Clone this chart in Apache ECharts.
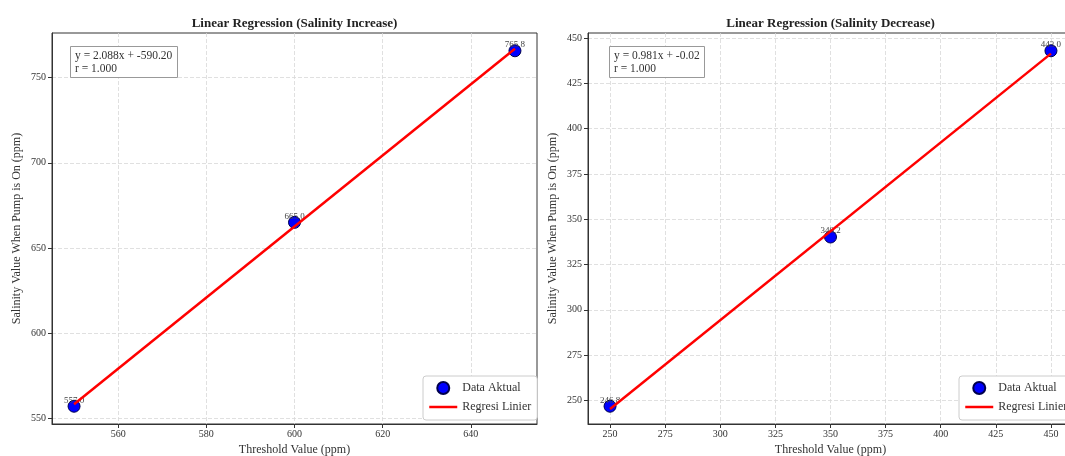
<!DOCTYPE html>
<html>
<head>
<meta charset="utf-8">
<script src="https://cdn.jsdelivr.net/npm/echarts@6/dist/echarts.min.js"></script>
<style>
  html, body { margin: 0; padding: 0; background: #fff; }
  #chart { width: 1065px; height: 456px; }
</style>
</head>
<body>
<div id="chart"></div>
<script>
// ---- Data ----
const titleInc = 'Linear Regression (Salinity Increase)';
const titleDec = 'Linear Regression (Salinity Decrease)';
const xInc = [550, 600, 650];
const yInc = [557.0, 665.0, 765.8];
const xDec = [250, 350, 450];
const yDec = [246.8, 340.2, 443.0];
const xTicksInc = [560, 580, 600, 620, 640];
const yTicksInc = [550, 600, 650, 700, 750];
const xTicksDec = [250, 275, 300, 325, 350, 375, 400, 425, 450];
const yTicksDec = [250, 275, 300, 325, 350, 375, 400, 425, 450];
const xName = 'Threshold Value (ppm)';
const yName = 'Salinity Value When Pump is On (ppm)';
const seriesNames = ['Data Aktual', 'Regresi Linier'];

// ---- Helpers ----
const FONT = '"Liberation Serif", "DejaVu Serif", serif';
function fit(xs, ys) {
  const n = xs.length;
  const mx = xs.reduce((a, b) => a + b, 0) / n;
  const my = ys.reduce((a, b) => a + b, 0) / n;
  let sxy = 0, sxx = 0, syy = 0;
  for (let i = 0; i < n; i++) {
    sxy += (xs[i] - mx) * (ys[i] - my);
    sxx += (xs[i] - mx) ** 2;
    syy += (ys[i] - my) ** 2;
  }
  const slope = sxy / sxx;
  const intercept = my - slope * mx;
  const r = sxy / Math.sqrt(sxx * syy);
  return { slope, intercept, r };
}
function pad(vals) {
  const lo = Math.min(...vals), hi = Math.max(...vals);
  const m = (hi - lo) * 0.05;
  return [lo - m, hi + m];
}
const fInc = fit(xInc, yInc);
const fDec = fit(xDec, yDec);
function eqText(f) {
  return 'y = ' + f.slope.toFixed(3) + 'x + ' + f.intercept.toFixed(2) + '\nr = ' + f.r.toFixed(3);
}
function fitLine(xs, f) {
  const a = Math.min(...xs), b = Math.max(...xs);
  return [[a, f.slope * a + f.intercept], [b, f.slope * b + f.intercept]];
}

const GRID_W = 485, GRID_H = 391, GRID_TOP = 33;
const grids = [
  { left: 52, top: GRID_TOP, width: GRID_W, height: GRID_H },
  { left: 588, top: GRID_TOP, width: GRID_W, height: GRID_H }
].map(g => Object.assign(g, {
  show: true, borderColor: '#333', borderWidth: 1, backgroundColor: 'transparent',
  containLabel: false, outerBoundsMode: 'none'
}));

function xAxis(gi, ext, ticks) {
  return {
    type: 'value', gridIndex: gi, min: ext[0], max: ext[1],
    name: xName, nameLocation: 'middle', nameGap: 20,
    nameTextStyle: { fontFamily: FONT, fontSize: 12, color: '#333' },
    axisLine: { show: true, onZero: false, lineStyle: { color: '#333', width: 1 } },
    axisTick: { show: true, inside: false, length: 4, customValues: ticks, lineStyle: { color: '#333' } },
    axisLabel: { customValues: ticks, fontSize: 10, color: '#333', margin: 5, fontFamily: FONT },
    splitLine: { show: true, lineStyle: { type: [4, 2], color: '#d8d8d8', width: 0.8 } }
  };
}
function yAxis(gi, ext, ticks) {
  return {
    type: 'value', gridIndex: gi, min: ext[0], max: ext[1],
    name: yName, nameLocation: 'middle', nameGap: 29, nameRotate: 90,
    nameTextStyle: { fontFamily: FONT, fontSize: 12, color: '#333' },
    axisLine: { show: true, onZero: false, lineStyle: { color: '#333', width: 1 } },
    axisTick: { show: true, inside: false, length: 4, customValues: ticks, lineStyle: { color: '#333' } },
    axisLabel: { customValues: ticks, fontSize: 10, color: '#333', margin: 6, fontFamily: FONT },
    splitLine: { show: true, lineStyle: { type: [4, 2], color: '#d8d8d8', width: 0.8 } }
  };
}
function scatter(gi, xs, ys) {
  return {
    type: 'scatter', name: seriesNames[0], xAxisIndex: gi, yAxisIndex: gi,
    data: xs.map((x, i) => [x, ys[i]]),
    symbol: 'circle', symbolSize: 12,
    itemStyle: { color: '#0000ff', borderColor: '#00004d', borderWidth: 1, opacity: 1 },
    label: {
      show: true, position: 'top', distance: -5,
      formatter: p => p.value[1].toFixed(1),
      fontSize: 9, color: '#444', fontFamily: FONT
    },
    z: 2
  };
}
function line(gi, xs, f) {
  return {
    type: 'line', name: seriesNames[1], xAxisIndex: gi, yAxisIndex: gi,
    data: fitLine(xs, f), symbol: 'none', showSymbol: false,
    lineStyle: { color: '#ff0000', width: 2.5 },
    itemStyle: { color: '#ff0000' },
    z: 3
  };
}
function legend(left) {
  return {
    orient: 'vertical', left: left, bottom: 36,
    data: [
      { name: seriesNames[0] },
      { name: seriesNames[1], itemStyle: { opacity: 0 }, lineStyle: { color: '#ff0000', width: 2.5, opacity: 1 } }
    ],
    itemWidth: 28, itemHeight: 12, itemGap: 6,
    padding: [5, 6, 7, 5],
    backgroundColor: '#fff', borderColor: '#ccc', borderWidth: 1, borderRadius: 3,
    textStyle: { fontFamily: FONT, fontSize: 12, color: '#333' },
    selectedMode: false
  };
}
function eqBox(left, f) {
  return {
    text: eqText(f), left: left, top: 46,
    padding: [3, 5, 3, 5], backgroundColor: '#fff', borderColor: '#999', borderWidth: 1,
    textStyle: { fontFamily: FONT, fontSize: 11.5, fontWeight: 'normal', color: '#333', lineHeight: 13 }
  };
}
function plotTitle(text, center) {
  return {
    text: text, left: center, top: 17, textAlign: 'center', padding: 0,
    textStyle: { fontFamily: FONT, fontSize: 13, fontWeight: 'bold', color: '#222' }
  };
}

const option = {
  animation: false,
  backgroundColor: '#fff',
  title: [
    plotTitle(titleInc, 52 + GRID_W / 2),
    plotTitle(titleDec, 588 + GRID_W / 2),
    eqBox(70, fInc),
    eqBox(609, fDec)
  ],
  legend: [legend(423), legend(959)],
  grid: grids,
  xAxis: [xAxis(0, pad(xInc), xTicksInc), xAxis(1, pad(xDec), xTicksDec)],
  yAxis: [yAxis(0, pad(yInc), yTicksInc), yAxis(1, pad(yDec), yTicksDec)],
  series: [
    scatter(0, xInc, yInc), line(0, xInc, fInc),
    scatter(1, xDec, yDec), line(1, xDec, fDec)
  ]
};

const chart = echarts.init(document.getElementById('chart'), null, { renderer: 'canvas' });
chart.setOption(option);
</script>
</body>
</html>
